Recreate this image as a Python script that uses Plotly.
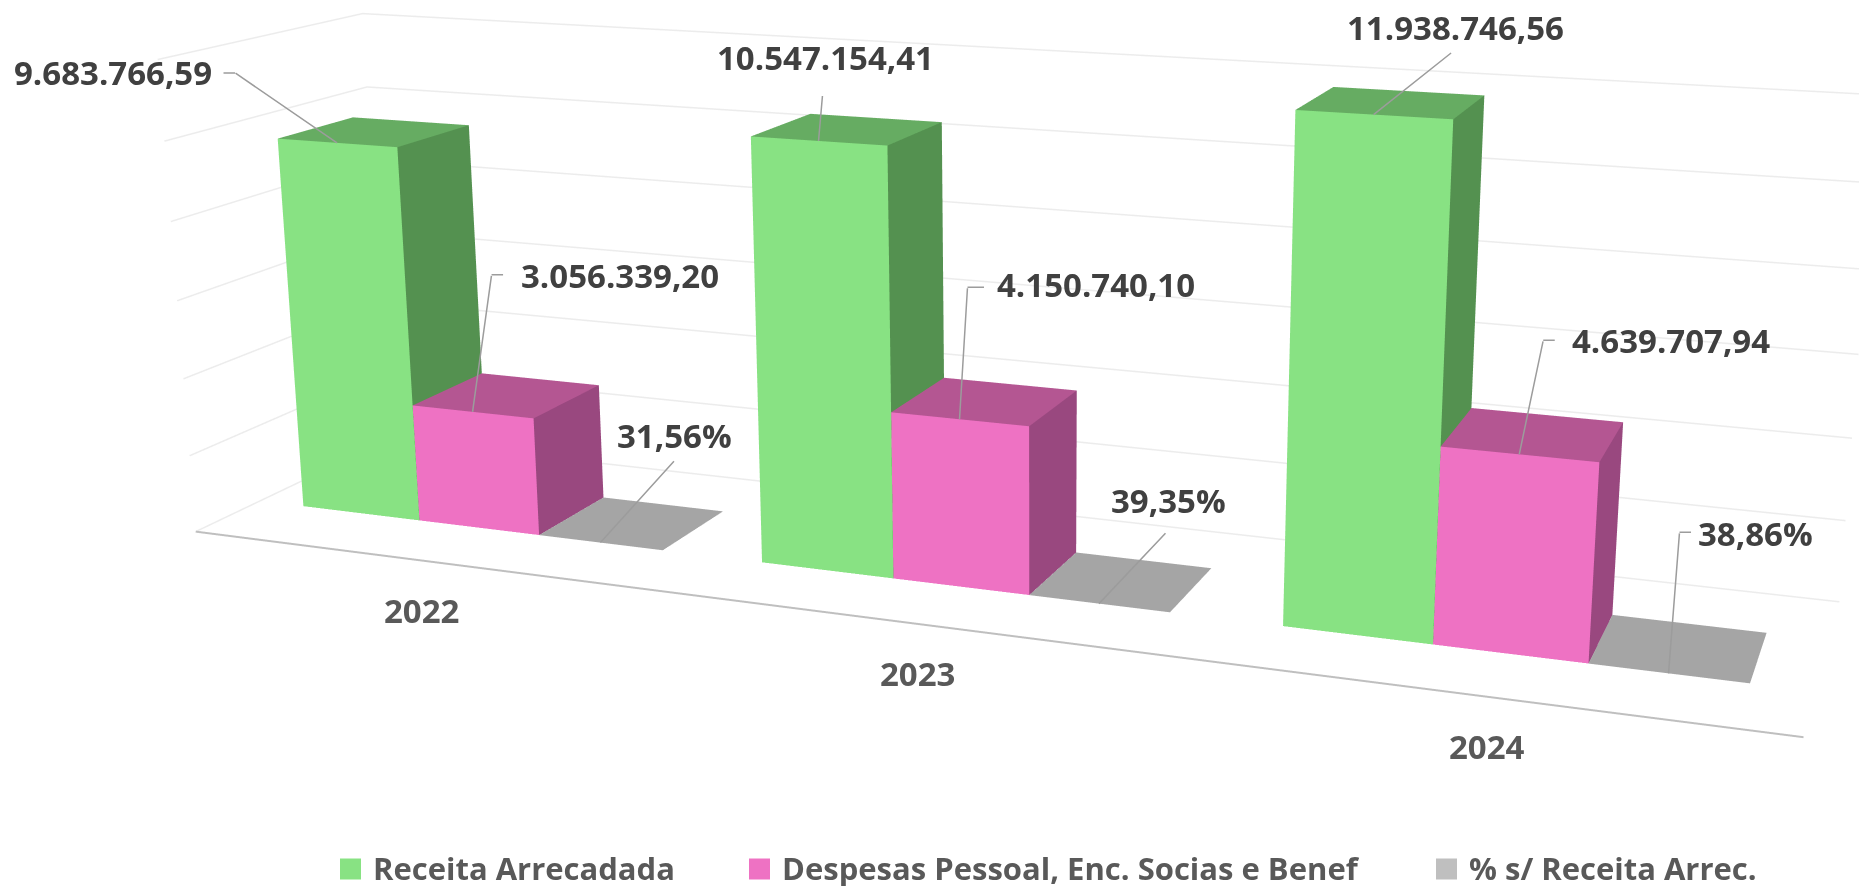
import plotly.graph_objects as go

# ---- data ----
years = ["2022", "2023", "2024"]
receita = [9683766.59, 10547154.41, 11938746.56]
despesas = [3056339.20, 4150740.10, 4639707.94]
percent = [0.3156, 0.3935, 0.3886]
receita_labels = ["9.683.766,59", "10.547.154,41", "11.938.746,56"]
despesas_labels = ["3.056.339,20", "4.150.740,10", "4.639.707,94"]
percent_labels = ["31,56%", "39,35%", "38,86%"]
series_names = ["Receita Arrecadada", "Despesas Pessoal, Enc. Socias e Benef", "% s/ Receita Arrec."]
z_ticks = [0, 2e6, 4e6, 6e6, 8e6, 10e6, 12e6]

# ---- style ----
FRONT = ["#88E283", "#EE72C3", "#A5A5A5"]
TOP = ["#66AC62", "#B45692", "#A5A5A5"]
SIDE = ["#549150", "#99487F", "#A5A5A5"]
LEGEND_COL = ["#88E283", "#EE72C3", "#BFBFBF"]
SW = 1 / 3.8 + 0.0015
START = 0.4 / 3.8 - 0.004
Y0, Y1 = 0.31, 0.69
W, H = 2070, 2325
SHIFT = H / 2 - 368
K = 0.5


def px(x):
    return x / W


def py(y):
    return 1 - (y + SHIFT) / H


def bars(values, s):
    xs, ys, zs, i, j, k, fc = [], [], [], [], [], [], []
    for c, v in enumerate(values):
        x0 = c + START + s * SW
        x1 = x0 + SW
        b = len(xs)
        for zz in (0, v):
            for yy in (Y0, Y1):
                for xx in (x0, x1):
                    xs.append(xx); ys.append(yy); zs.append(zz)
        faces = [((0, 1, 5), FRONT[s]), ((0, 5, 4), FRONT[s]),
                 ((4, 5, 7), TOP[s]), ((4, 7, 6), TOP[s]),
                 ((1, 3, 7), SIDE[s]), ((1, 7, 5), SIDE[s])]
        for (a, bb, cc), col in faces:
            i.append(b + a); j.append(b + bb); k.append(b + cc); fc.append(col)
    return go.Mesh3d(x=xs, y=ys, z=zs, i=i, j=j, k=k, facecolor=fc, flatshading=True,
                     lighting=dict(ambient=1, diffuse=0, specular=0, fresnel=0, roughness=1),
                     name=series_names[s], showlegend=False, hoverinfo="skip")


# value gridlines run along the left wall and the back wall
gx, gy, gz = [], [], []
for t in z_ticks:
    gx += [0, 0, 3, None]
    gy += [0, 1, 1, None]
    gz += [t, t, t, None]
grid = go.Scatter3d(x=gx, y=gy, z=gz, mode="lines", line=dict(color="#ECECEC", width=3),
                    showlegend=False, hoverinfo="skip")
baseline = go.Scatter3d(x=[0, 3], y=[0, 0], z=[0, 0], mode="lines", line=dict(color="#BFBFBF", width=4),
                        showlegend=False, hoverinfo="skip")

fig = go.Figure([grid, baseline, bars(receita, 0), bars(despesas, 1), bars(percent, 2)])

LBL = "#404040"
LEAD = dict(text=" ", showarrow=True, arrowhead=0, arrowwidth=1.5, arrowcolor="#9C9C9C",
            standoff=0, startstandoff=0, font=dict(size=1), borderpad=0)
leaders = {
    (0, 0): (-224, -70, -102, -70, -12),
    (0, 1): (147, -136, 19, -137, 12),
    (0, 2): (74, -107, 74, -82, 0),
    (1, 0): (7, -83, 4, -46, 0),
    (1, 1): (136, -135, 8, -132, 17),
    (1, 2): (70, -103, 67, -71, 0),
    (2, 0): (82, -87, 78, -62, 0),
    (2, 1): (152, -114, 24, -114, 12),
    (2, 2): (87, -140, 11, -141, 12),
}
annotations = []
for s, (vals, labs) in enumerate([(receita, receita_labels), (despesas, despesas_labels), (percent, percent_labels)]):
    for c in range(3):
        xc = c + START + (s + 0.5) * SW
        tx, ty, ex, ey, st = leaders[(c, s)]
        base = dict(x=xc, y=Y0, z=vals[c])
        annotations.append(dict(base, ax=ex, ay=ey, **LEAD))
        if st:
            annotations.append(dict(base, ax=st, ay=0, xshift=ex, yshift=-ey, **LEAD))
        annotations.append(dict(base, text="<b>%s</b>" % labs[c], showarrow=False, xshift=tx, yshift=-ty,
                                font=dict(family="Open Sans", size=33, color=LBL)))

for c, y in enumerate(years):
    annotations.append(dict(x=c + 0.5, y=0, z=0, text="<b>%s</b>" % y, showarrow=False, yshift=-50,
                            font=dict(family="Open Sans", size=33, color="#595959")))

# legend key (square + text), placed in page pixels
legend_x = [340, 749, 1436]
legend_annots, legend_shapes = [], []
for n, col, lx in zip(series_names, LEGEND_COL, legend_x):
    legend_shapes.append(dict(type="rect", xref="paper", yref="paper", x0=px(lx), x1=px(lx + 21), y0=py(879), y1=py(858),
                              fillcolor=col, line=dict(width=0)))
    legend_annots.append(dict(xref="paper", yref="paper", x=px(lx + 31), y=py(867), xanchor="left", yanchor="middle",
                              text="<b>%s</b>" % n, showarrow=False,
                              font=dict(family="Open Sans", size=31, color="#595959")))

hidden = dict(showgrid=False, zeroline=False, showticklabels=False, showbackground=False,
              showspikes=False, title="", ticks="", showline=False)
fig.update_layout(
    width=W, height=H, margin=dict(l=0, r=0, t=0, b=0), paper_bgcolor="white",
    showlegend=False, shapes=legend_shapes, annotations=legend_annots,
    scene=dict(
        domain=dict(x=[0, 1], y=[0, 1]),
        aspectmode="manual", aspectratio=dict(x=1, y=0.2237, z=0.3040),
        xaxis=dict(hidden, range=[0, 3]),
        yaxis=dict(hidden, range=[0, 1]),
        zaxis=dict(hidden, range=[0, 12e6], tickmode="array", tickvals=z_ticks),
        camera=dict(eye=dict(x=1.186 * K, y=-3.068 * K, z=0.8196 * K),
                    center=dict(x=0.09 * K, y=-0.073 * K, z=-0.026 * K),
                    up=dict(x=0, y=0, z=1), projection=dict(type="perspective")),
        annotations=annotations,
    ),
)

shift_js = (
    "document.body.style.margin='0';document.documentElement.style.overflow='hidden';"
    "document.body.style.overflow='hidden';"
    "var gd=document.getElementById('{plot_id}');gd.style.marginTop='-%dpx';" % round(SHIFT)
)
fig.write_html("out.html", post_script=shift_js)
